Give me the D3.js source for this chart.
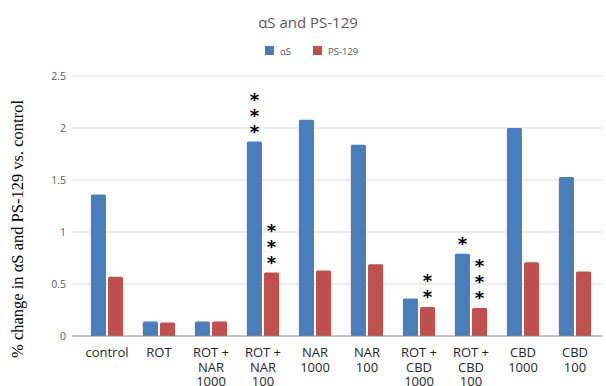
<!DOCTYPE html>
<html>
<head>
<meta charset="utf-8">
<script src="https://cdn.jsdelivr.net/npm/d3@7"></script>
<style>
  body { margin: 0; background: #fff; }
  svg { display: block; }
</style>
</head>
<body>
<div id="chart"></div>
<script>
// chart data
const categories = ['control', 'ROT', 'ROT + NAR 1000', 'ROT + NAR 100', 'NAR 1000', 'NAR 100',
  'ROT + CBD 1000', 'ROT + CBD 100', 'CBD 1000', 'CBD 100'];
const categoryLines = [['control'], ['ROT'], ['ROT +', 'NAR', '1000'], ['ROT +', 'NAR', '100'],
  ['NAR', '1000'], ['NAR', '100'], ['ROT +', 'CBD', '1000'], ['ROT +', 'CBD', '100'],
  ['CBD', '1000'], ['CBD', '100']];
const seriesNames = ['αS', 'PS-129'];
const alphaS = [1.36, 0.14, 0.14, 1.87, 2.08, 1.84, 0.36, 0.79, 2.00, 1.53];
const ps129 = [0.57, 0.13, 0.14, 0.61, 0.63, 0.69, 0.28, 0.27, 0.71, 0.62];
// significance stars per series
const starsAlpha = [0, 0, 0, 3, 0, 0, 0, 1, 0, 0];
const starsPs = [0, 0, 0, 3, 0, 0, 2, 3, 0, 0];
const yTicks = [0, 0.5, 1, 1.5, 2, 2.5];

const colors = ['#4a7ebb', '#c0504d'];
const width = 606, height = 386;
const margin = { left: 81, right: 5, top: 76, bottom: 50 };
const sans = '"Open Sans", "Noto Sans", sans-serif';

const svg = d3.select('#chart').append('svg')
  .attr('width', width)
  .attr('height', height);

const x = d3.scaleBand()
  .domain(categories)
  .range([margin.left, width - margin.right])
  .paddingInner(0.38)
  .paddingOuter(0.19);

const xSub = d3.scaleBand()
  .domain(seriesNames)
  .range([0, x.bandwidth()])
  .paddingInner(0.12);

const y = d3.scaleLinear()
  .domain([0, 2.5])
  .range([height - margin.bottom, margin.top]);

// gridlines
svg.append('g')
  .selectAll('line')
  .data(yTicks.slice(1))
  .enter().append('line')
  .attr('x1', 72)
  .attr('x2', width - 4)
  .attr('y1', d => y(d))
  .attr('y2', d => y(d))
  .attr('stroke', '#d9d9d9')
  .attr('stroke-width', 1);

// y axis labels
const yAxis = svg.append('g')
  .attr('transform', `translate(72,0)`)
  .call(d3.axisLeft(y).tickValues(yTicks).tickSize(0).tickPadding(6).tickFormat(d3.format('')));
yAxis.select('.domain').remove();
yAxis.selectAll('text')
  .attr('fill', '#595959')
  .style('font-family', sans)
  .style('font-size', '10.5px');

// bars
const rows = categories.map((c, i) => ({ cat: c, values: [alphaS[i], ps129[i]], stars: [starsAlpha[i], starsPs[i]] }));

const groups = svg.append('g')
  .selectAll('g')
  .data(rows)
  .enter().append('g')
  .attr('transform', d => `translate(${x(d.cat)},0)`);

groups.selectAll('path')
  .data(d => d.values.map((v, k) => ({ name: seriesNames[k], v, k, stars: d.stars[k] })))
  .enter().append('path')
  .attr('d', d => {
    const x0 = xSub(d.name), w = xSub.bandwidth();
    const y0 = y(0), y1 = y(d.v), r = 1.5;
    return `M${x0},${y0}V${y1 + r}Q${x0},${y1} ${x0 + r},${y1}H${x0 + w - r}Q${x0 + w},${y1} ${x0 + w},${y1 + r}V${y0}Z`;
  })
  .attr('fill', d => colors[d.k]);

// significance stars
groups.each(function (d) {
  const g = d3.select(this);
  d.values.forEach((v, k) => {
    for (let s = 0; s < d.stars[k]; s++) {
      g.append('text')
        .attr('x', xSub(seriesNames[k]) + xSub.bandwidth() / 2)
        .attr('y', y(v) - 4 - s * 16)
        .attr('text-anchor', 'middle')
        .attr('fill', '#000')
        .style('font-family', '"DejaVu Sans", sans-serif')
        .style('font-weight', 'bold')
        .style('font-size', '18px')
        .text('*');
    }
  });
});

// baseline
svg.append('line')
  .attr('x1', 72)
  .attr('x2', width - 4)
  .attr('y1', y(0))
  .attr('y2', y(0))
  .attr('stroke', '#868686')
  .attr('stroke-width', 1);

// category labels
const catLabels = svg.append('g')
  .selectAll('text')
  .data(categories)
  .enter().append('text')
  .attr('x', d => x(d) + x.bandwidth() / 2)
  .attr('y', y(0) + 21)
  .attr('text-anchor', 'middle')
  .attr('fill', '#262626')
  .style('font-family', sans)
  .style('font-size', '13px');
catLabels.each(function (d, i) {
  d3.select(this).selectAll('tspan')
    .data(categoryLines[i])
    .enter().append('tspan')
    .attr('x', x(d) + x.bandwidth() / 2)
    .attr('dy', (t, j) => j === 0 ? 0 : 14.5)
    .text(t => t);
});

// title
svg.append('text')
  .attr('x', 308)
  .attr('y', 28)
  .attr('text-anchor', 'middle')
  .attr('fill', '#595959')
  .style('font-family', sans)
  .style('font-size', '15px')
  .text('αS and PS-129');

// legend
const legend = svg.append('g').attr('transform', 'translate(265,46)');
const legendX = [0, 48];
seriesNames.forEach((name, k) => {
  legend.append('rect')
    .attr('x', legendX[k])
    .attr('y', 0)
    .attr('width', 9)
    .attr('height', 9)
    .attr('fill', colors[k]);
  legend.append('text')
    .attr('x', legendX[k] + 15)
    .attr('y', 8.5)
    .attr('fill', '#595959')
    .style('font-family', sans)
    .style('font-size', '9.5px')
    .text(name);
});

// y axis title
svg.append('text')
  .attr('transform', 'translate(23,229) rotate(-90)')
  .attr('text-anchor', 'middle')
  .attr('fill', '#000')
  .style('font-family', '"Liberation Serif", "Times New Roman", serif')
  .style('font-size', '16.5px')
  .text('% change in αS and PS-129 vs. control');
</script>
</body>
</html>
